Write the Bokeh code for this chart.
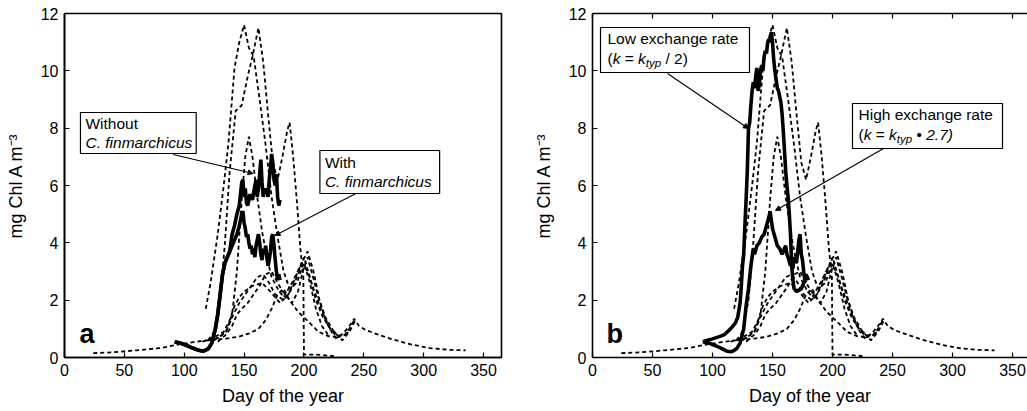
from bokeh.plotting import figure
from bokeh.layouts import row
from bokeh.models import Range1d, LinearAxis, BoxAnnotation, Label, Arrow, NormalHead, FixedTicker
from bokeh.embed import file_html
from bokeh.resources import INLINE

# ---------------- data (observations, dashed) ----------------
obs1_day = [24, 40, 60, 80, 95, 105, 115, 125, 135, 145, 155, 162, 168, 173, 178, 183, 188, 195, 205, 212,
            220, 228, 233, 238, 242, 246, 252, 262, 275, 290, 305, 320, 335]
obs1_val = [0.15, 0.18, 0.25, 0.33, 0.45, 0.52, 0.58, 0.62, 0.66, 0.72, 0.85, 1.0, 1.3, 1.7, 2.2, 2.4, 2.0, 1.6,
            1.2, 0.9, 0.75, 0.7, 0.85, 1.1, 1.35, 1.1, 0.95, 0.8, 0.62, 0.45, 0.33, 0.27, 0.25]
obs2_day = [118, 122, 128, 133, 137, 142, 146, 150, 154, 158, 163, 168, 173, 178, 183, 188, 194, 200, 205, 210, 215, 220]
obs2_val = [1.7, 2.6, 4.3, 6.0, 7.5, 10.1, 11.0, 11.6, 10.8, 10.5, 9.0, 7.4, 5.6, 4.2, 3.0, 2.4, 2.6, 3.3, 2.6,
            1.7, 1.1, 0.8]
obs3_day = [120, 125, 130, 134, 138, 143, 148, 153, 157, 162, 166, 170, 174, 178, 182, 186, 188, 191, 194, 197,
            199.5, 200, 210, 225]
obs3_val = [0.6, 0.9, 2.0, 4.0, 6.5, 8.6, 8.8, 9.8, 10.5, 11.5, 10.3, 8.5, 6.8, 6.2, 7.0, 7.9, 8.2, 7.0, 5.5, 3.8,
            2.8, 0.1, 0.1, 0.05]
obs4_day = [125, 135, 140, 144, 148, 151, 154, 157, 161, 165, 169, 173, 178, 183, 190, 197, 203, 208, 213, 218, 223, 228]
obs4_val = [0.6, 0.9, 1.5, 3.0, 5.5, 7.0, 7.7, 7.0, 5.6, 4.4, 3.5, 2.8, 2.4, 2.1, 2.6, 3.2, 3.7, 3.0, 2.0, 1.3, 0.9, 0.6]
obs5_day = [120, 130, 136, 141, 146, 151, 156, 161, 166, 171, 176, 183, 190, 196, 200, 205, 210, 216, 222, 228, 235, 242]
obs5_val = [0.6, 0.7, 1.0, 1.5, 1.9, 2.2, 2.5, 2.8, 2.9, 2.6, 2.2, 2.0, 2.4, 3.0, 3.5, 2.8, 2.0, 1.4, 1.0, 0.7, 0.8, 1.3]
obs6_day = [115, 125, 133, 138, 142, 146, 150, 157, 165, 172, 180, 187, 193, 198, 203, 208, 215, 222, 230, 238]
obs6_val = [0.55, 0.7, 0.9, 1.3, 1.8, 2.1, 2.3, 2.5, 2.6, 2.3, 1.9, 2.2, 2.8, 3.3, 3.0, 2.4, 1.6, 1.0, 0.75, 0.9]
obs7_day = [128, 135, 140, 144, 148, 153, 158, 163, 168, 173, 178, 184, 190, 195, 199, 203, 207, 212, 218, 225,
            232, 238, 243]
obs7_val = [0.55, 0.8, 1.1, 1.5, 1.7, 1.9, 2.2, 2.5, 2.9, 3.0, 2.6, 2.2, 1.9, 2.3, 3.0, 3.5, 2.9, 2.1, 1.4, 0.9,
            0.6, 0.9, 1.3]
obs_series = [(obs1_day, obs1_val), (obs2_day, obs2_val), (obs3_day, obs3_val), (obs4_day, obs4_val),
              (obs5_day, obs5_val), (obs6_day, obs6_val), (obs7_day, obs7_val)]

# ---------------- model runs (solid) ----------------
common_day = [92, 97, 102, 107, 112, 116, 120, 123, 126, 128, 130, 132, 134, 136, 138]
common_val = [0.55, 0.5, 0.42, 0.33, 0.25, 0.22, 0.3, 0.5, 1.0, 1.5, 2.2, 2.9, 3.3, 3.5, 3.7]

without_day = common_day + [140, 142, 144, 146, 148, 149, 150, 151, 152, 153, 155, 157, 159, 160, 161, 162, 163,
                            164, 165, 166, 167, 168, 169, 170, 171, 172, 173, 174, 175, 176, 177, 178, 179, 180]
without_val = common_val + [4.3, 4.6, 5.0, 5.3, 6.1, 6.2, 5.6, 5.9, 5.4, 5.3, 5.7, 5.5, 6.0, 6.2, 5.6, 5.9, 6.4,
                            6.9, 6.1, 5.6, 5.9, 5.7, 5.9, 5.6, 6.2, 6.6, 7.1, 6.8, 6.2, 6.0, 6.4, 5.6, 5.3, 5.5]
with_day = common_day + [140, 142, 144, 146, 148, 149, 150, 151, 152, 153, 154, 155, 156, 157, 158, 159, 160, 161,
                         162, 163, 164, 165, 166, 167, 168, 169, 170, 171, 172, 173, 174, 175, 176, 177, 178, 179, 180]
with_val = common_val + [3.9, 4.1, 4.3, 4.6, 5.0, 5.1, 4.7, 4.5, 4.2, 4.3, 4.0, 3.8, 3.9, 3.6, 3.8, 3.5, 3.9, 4.1,
                         4.3, 4.0, 3.6, 3.4, 3.8, 3.6, 3.9, 3.5, 3.2, 3.4, 3.7, 4.2, 4.3, 3.9, 3.4, 3.0, 2.7, 2.9, 2.7]

low_day = [92, 96, 100, 105, 110, 115, 119, 121, 123, 124, 125, 126, 127, 128, 129, 130, 131, 132, 133, 134, 135,
           136, 137, 138, 139, 140, 141, 142, 143, 144, 145, 146, 147, 148, 149, 150, 151, 152, 153, 154, 155, 156,
           157, 158, 159, 160, 161, 162, 163, 164, 165, 166, 167, 168, 170, 172, 174, 176, 178]
low_val = [0.55, 0.6, 0.65, 0.72, 0.8, 1.0, 1.2, 1.4, 1.9, 2.5, 3.2, 3.6, 4.6, 5.5, 6.5, 8.0, 8.2, 8.8, 9.3, 9.6,
           9.4, 9.8, 10.1, 9.3, 9.5, 10.0, 10.2, 10.0, 10.5, 10.7, 10.6, 11.0, 11.1, 11.0, 11.35, 11.0, 10.4, 10.0,
           9.7, 9.4, 9.3, 9.1, 8.9, 8.5, 7.9, 7.2, 6.5, 6.0, 5.6, 5.0, 4.3, 3.2, 2.7, 2.4, 2.3, 2.35, 2.4, 2.6, 2.7]
high_day = [92, 97, 102, 107, 112, 116, 120, 123, 126, 128, 130, 132, 134, 135, 137, 139, 141, 143, 145, 147, 148,
            149, 150, 152, 154, 156, 158, 160, 161, 162, 163, 165, 166, 167, 168, 170, 172, 173, 174, 175, 176, 177,
            178, 180]
high_val = [0.55, 0.5, 0.42, 0.33, 0.22, 0.2, 0.3, 0.5, 1.0, 1.8, 2.4, 3.2, 3.8, 3.6, 3.9, 4.0, 4.2, 4.3, 4.6, 4.9,
            5.1, 4.8, 4.5, 4.2, 3.9, 3.8, 3.6, 3.8, 3.9, 3.6, 3.5, 3.2, 3.4, 3.1, 3.5, 3.3, 4.1, 4.3, 3.6, 3.4, 3.0,
            2.7, 2.9, 2.7]

x_ticks = [0, 50, 100, 150, 200, 250, 300, 350]
y_ticks = [0, 2, 4, 6, 8, 10, 12]

FONT = "Liberation Sans"
H = 411
TOP, BOTTOM = 13, 357          # frame top / bottom in pixels
YSCALE = (BOTTOM - TOP) / 12.0
XSCALE = 1.2


def px2y(py):
    return (BOTTOM - py) / YSCALE


CW = {'(': 333, ')': 333, 'k': 500, ' ': 278, '=': 584, 't': 278, 'y': 500, 'p': 556, '/': 278, '2': 556,
      '.': 278, '7': 556, '\u2022': 350}


def twidth(s, size):
    return sum(CW.get(c, 556) for c in s) * size / 1000.0


def make_panel(width, left_px, x_end, letter, with_top):
    p = figure(width=width, height=H, output_backend="svg", toolbar_location=None,
               x_range=Range1d(0, x_end), y_range=Range1d(0, 12),
               min_border_left=left_px - (0 if letter == "a" else 513), min_border_right=12 if letter == "a" else 0,
               min_border_top=TOP, min_border_bottom=H - BOTTOM)
    p.xgrid.visible = False
    p.ygrid.visible = False
    p.background_fill_color = "white"
    p.border_fill_color = "white"
    for ax, ticks in ((p.xaxis[0], x_ticks), (p.yaxis[0], y_ticks)):
        ax.ticker = FixedTicker(ticks=ticks)
        ax.major_tick_in = 5
        ax.major_tick_out = 0
        ax.minor_tick_line_color = None
        ax.axis_line_width = 1.6
        ax.major_tick_line_width = 1.2
        ax.major_label_text_font = FONT
        ax.major_label_text_font_size = "16px"
        ax.major_label_text_color = "black"
        ax.axis_label_text_font = FONT
        ax.axis_label_text_font_size = "18px"
        ax.axis_label_text_font_style = "normal"
        ax.axis_label_text_color = "black"
    p.xaxis.axis_label = "Day of the year"
    p.xaxis.major_label_standoff = 6
    p.xaxis.axis_label_standoff = 7
    p.yaxis.axis_label = "mg Chl A m\u207b\u00b3"
    p.yaxis.major_label_standoff = 6
    p.yaxis.axis_label_standoff = 12
    if with_top:
        p.outline_line_color = None
        top = LinearAxis(ticker=FixedTicker(ticks=x_ticks), major_tick_in=5, major_tick_out=0,
                         minor_tick_line_color=None, major_label_text_font_size="0px",
                         major_label_standoff=0, axis_line_width=1.6, major_tick_line_width=1.2)
        top.major_label_text_color = None
        p.add_layout(top, "above")
    else:
        p.outline_line_color = "black"
        p.outline_line_width = 1.6
    for d, v in obs_series:
        p.line(d, v, line_color="black", line_width=1.8, line_dash="4 3")
    p.add_layout(Label(x=((79 if letter == "a" else 606) - left_px) / XSCALE,
                       y=px2y(348), text=letter, text_font=FONT, text_font_size="27px",
                       text_font_style="bold", text_color="black"))
    return p


def box(p, left_px, l, r, t, b):
    p.add_layout(BoxAnnotation(left=(l - left_px) / XSCALE, right=(r - left_px) / XSCALE,
                               top=px2y(t), bottom=px2y(b), fill_color="white", fill_alpha=1.0,
                               line_color="black", line_alpha=1.0, line_width=1.2, level="overlay"))


def text(p, left_px, xpx, ypx, segs, size=15.5):
    off = 0.0
    for s, style, sz, dy in segs:
        sz = sz or size
        lead = len(s) - len(s.lstrip(" "))
        off += twidth(" " * lead, sz)
        core = s.strip(" ")
        trail = len(s.lstrip(" ")) - len(core)
        p.add_layout(Label(x=(xpx - left_px) / XSCALE, y=px2y(ypx), x_offset=off, y_offset=-dy, text=core,
                           text_font=FONT, text_font_size="%.1fpx" % sz, text_font_style=style,
                           text_color="black", text_baseline="alphabetic", level="overlay"))
        off += twidth(core, sz) + twidth(" " * trail, sz)


def leader(p, left_px, x0, y0, x1, y1):
    p.add_layout(Arrow(x_start=(x0 - left_px) / XSCALE, y_start=px2y(y0), x_end=(x1 - left_px) / XSCALE,
                       y_end=px2y(y1), line_color="black", line_width=1.1,
                       end=NormalHead(size=5, fill_color="black", line_color="black")))


# ---------------- panel a ----------------
LA = 64
pa = make_panel(513, LA, 365, "a", False)
pa.line(without_day, without_val, line_color="black", line_width=3.6)
pa.line(with_day, with_val, line_color="black", line_width=3.6)
leader(pa, LA, 173, 154, 253, 173)
leader(pa, LA, 356, 193, 275, 235)
box(pa, LA, 80, 196, 112, 153)
text(pa, LA, 85, 123, [("Without", "normal", None, 0)])
text(pa, LA, 85, 142, [("C. finmarchicus", "italic", None, 0)])
box(pa, LA, 320, 440, 150, 193)
text(pa, LA, 325, 162, [("With", "normal", None, 0)])
text(pa, LA, 325, 181, [("C. finmarchicus", "italic", None, 0)])

# ---------------- panel b ----------------
LB = 592
pb = make_panel(514, LB, (1027 - LB) / XSCALE, "b", True)
pb.line(low_day, low_val, line_color="black", line_width=3.6)
pb.line(high_day, high_val, line_color="black", line_width=3.6)
leader(pb, LB, 667, 73, 748, 128)
leader(pb, LB, 883, 148, 775, 210)
box(pb, LB, 600, 749, 27, 72)
text(pb, LB, 607, 38, [("Low exchange rate", "normal", None, 0)])
text(pb, LB, 607, 58, [("(", "normal", None, 0), ("k", "italic", None, 0), (" = ", "normal", None, 0),
                       ("k", "italic", None, 0), ("typ", "italic", 11.5, 4), (" / 2)", "normal", None, 0)])
box(pb, LB, 852, 1002, 103, 148)
text(pb, LB, 858, 114, [("High exchange rate", "normal", None, 0)])
text(pb, LB, 858, 134, [("(", "normal", None, 0), ("k", "italic", None, 0), (" = ", "normal", None, 0),
                        ("k", "italic", None, 0), ("typ", "italic", 11.5, 4), (" \u2022 ", "normal", None, 0),
                        ("2.7)", "italic", None, 0)])

layout = row(pa, pb)
open("out.html", "w").write(file_html(layout, INLINE))
